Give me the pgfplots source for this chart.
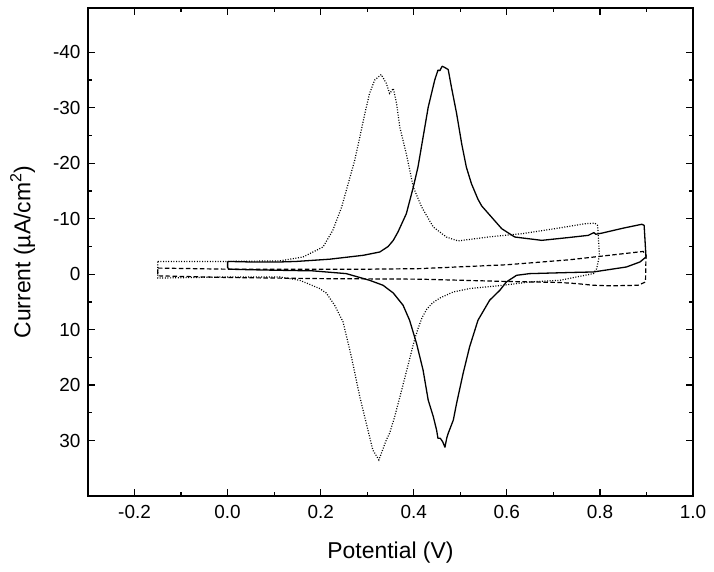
\documentclass[border=0pt]{standalone}
\usepackage{pgfplots}
\pgfplotsset{compat=1.18}
\usepackage{fontspec}
\setmainfont{Liberation Sans}
\begin{document}
\begin{tikzpicture}
\begin{axis}[
  scale only axis,
  width=605bp, height=488bp,
  xmin=-0.3, xmax=1.0,
  ymin=-48, ymax=40,
  y dir=reverse,
  xtick={-0.2,0,0.2,0.4,0.6,0.8,1.0},
  xticklabels={-0.2,0.0,0.2,0.4,0.6,0.8,1.0},
  ytick={-40,-30,-20,-10,0,10,20,30},
  yticklabels={-40,-30,-20,-10,0,10,20,30},
  minor x tick num=1,
  minor y tick num=1,
  tick align=inside,
  tick pos=both,
  major tick length=7bp,
  minor tick length=4bp,
  axis line style={line width=1.4bp},
  every tick/.style={line width=1.2bp, black},
  tick label style={font=\fontsize{19}{22}\selectfont},
  label style={font=\fontsize{23}{27}\selectfont},
  xticklabel style={yshift=-6bp},
  yticklabel style={xshift=-4bp},
  xlabel={Potential (V)},
  ylabel={Current (µA/cm\textsuperscript{2})},
  xlabel style={at={(axis description cs:0.5,-0.115)}, anchor=center},
  ylabel style={at={(axis description cs:-0.108,0.5)}, anchor=center},
  /pgf/number format/assume math mode=true,
]
% solid loop
\addplot[black, line width=1.3bp, line join=round] table {
0.000 -2.3
0.050 -2.2
0.112 -2.2
0.148 -2.3
0.219 -2.7
0.291 -3.4
0.327 -4.0
0.345 -5.0
0.356 -6.1
0.366 -7.6
0.384 -10.9
0.399 -15.7
0.409 -19.3
0.420 -24.7
0.431 -30.1
0.445 -35.0
0.452 -36.8
0.456 -36.7
0.461 -37.5
0.466 -37.3
0.474 -36.9
0.481 -33.7
0.492 -29.0
0.503 -23.5
0.513 -19.3
0.524 -16.3
0.538 -13.5
0.546 -12.3
0.567 -10.3
0.589 -8.2
0.617 -6.7
0.675 -6.1
0.732 -6.6
0.775 -7.0
0.787 -7.5
0.791 -7.2
0.804 -7.4
0.850 -8.3
0.890 -9.0
0.895 -8.8
0.899 -3.1
0.886 -2.2
0.857 -1.3
0.786 -0.4
0.735 -0.3
0.649 -0.1
0.621 0.2
0.599 1.4
0.585 2.9
0.563 4.7
0.538 8.3
0.520 13.1
0.506 17.9
0.492 23.3
0.485 26.3
0.474 28.7
0.471 29.5
0.467 31.2
0.462 30.2
0.457 29.6
0.452 29.6
0.449 28.1
0.442 25.7
0.431 22.7
0.420 17.3
0.406 12.5
0.391 8.3
0.377 5.6
0.356 3.4
0.334 2.0
0.305 1.1
0.255 -0.1
0.183 -0.6
0.112 -0.7
0.050 -0.8
0.003 -0.9
0.000 -1.2
0.000 -2.3
};
% dotted loop
\addplot[black, line width=1.2bp, dash pattern=on 1bp off 1.6bp] table {
-0.150 -2.3
0.000 -2.3
0.112 -2.4
0.162 -3.1
0.205 -4.9
0.226 -7.9
0.245 -12.1
0.259 -16.3
0.273 -20.5
0.284 -24.7
0.295 -29.0
0.305 -32.6
0.316 -35.0
0.330 -36.0
0.341 -34.4
0.348 -32.6
0.352 -33.0
0.356 -33.5
0.363 -30.8
0.370 -26.5
0.384 -21.7
0.399 -15.7
0.417 -12.1
0.442 -8.5
0.470 -6.7
0.495 -6.0
0.560 -6.7
0.632 -7.3
0.703 -8.2
0.768 -9.1
0.789 -9.2
0.795 -8.8
0.799 -3.4
0.793 -1.0
0.786 -0.1
0.750 0.5
0.714 1.1
0.649 1.4
0.592 2.0
0.520 2.6
0.485 3.2
0.456 4.3
0.440 5.2
0.428 6.3
0.418 7.8
0.410 9.6
0.402 11.7
0.388 16.3
0.374 20.9
0.359 25.7
0.348 28.7
0.341 29.9
0.325 33.5
0.312 31.7
0.298 26.9
0.284 22.1
0.266 14.9
0.248 8.6
0.230 5.6
0.212 3.4
0.198 2.6
0.155 1.1
0.112 0.5
0.000 0.5
-0.150 0.7
-0.150 -2.3
};
% dashed loop
\addplot[black, line width=1.2bp, dash pattern=on 4.5bp off 2.5bp] table {
-0.150 -1.1
0.000 -0.9
0.300 -0.9
0.413 -1.0
0.600 -1.7
0.735 -2.6
0.893 -4.1
0.899 -3.4
0.898 1.4
0.882 2.0
0.822 2.1
0.786 2.0
0.750 1.7
0.714 1.5
0.592 1.3
0.413 0.9
0.200 0.8
0.000 0.6
-0.150 0.3
-0.150 -1.1
};
\end{axis}
\path ([xshift=-88bp,yshift=-76bp]current axis.south west) rectangle ([xshift=21bp,yshift=8bp]current axis.north east);
\end{tikzpicture}
\end{document}
